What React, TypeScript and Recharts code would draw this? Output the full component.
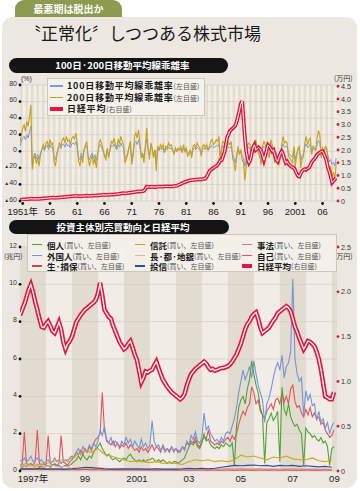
import React from 'react';
import { LineChart, Line, XAxis, YAxis, ReferenceArea, ReferenceLine } from 'recharts';

// ---------------- Panel 1: 100/200-day MA deviation & Nikkei (quarterly, 1951Q1 - 2009Q1) ----------------
const dev1StartYear = 1951;
const dev200 = [
  10, 20, 28, 32, 24, 36, 30, 42, 56, -22, -10, -4, -15, -8, -18, -5,
  2, 8, 3, 10, 12, 5, 14, 8, 10, -12, -18, -6, 4, 10, 6, 14,
  16, 10, 18, 12, 14, 8, 16, 18, 15, 22, 10, -12, -18, -6, -14, 2,
  8, 12, -8, -18, -10, -4, -16, -8, -20, -6, 10, 14, 8, 2, -6, -10,
  4, -8, 2, 12, 10, 16, 8, 4, 14, 10, 18, 12, 8, -14, -10, -4,
  6, 12, -16, -6, 18, 22, 16, 26, 10, -8, -4, -14, 8, 28, 4, -10,
  10, 4, -8, 2, -24, 6, 2, 8, 4, 8, -2, 6, 4, 10, 6, 8,
  2, -4, 4, 0, 4, 2, 6, -2, 8, 0, 4, -6, -4, 2, -8, 6,
  8, 4, 10, 6, 4, -6, 6, 8, 4, 8, 2, 6, 12, 14, 8, 10,
  14, 12, 18, -14, 6, 12, 10, 8, 6, 10, 8, 12, -8, -14, -24, -8,
  6, -4, 2, -10, -14, -35, -18, 8, 10, 6, -8, 2, 6, 14, 4, -2,
  -8, -16, 6, 12, 8, 4, -4, -8, 14, 8, -6, -14, -4, -12, -16, -8,
  8, 18, 10, 12, 10, -6, -8, -12, -14, 6, -18, -6, 4, 6, -20, -10,
  -6, 10, 18, 8, 14, 16, -4, 6, 4, 2, 16, 25, 20, -8, 4, 0,
  6, 4, -10, -25, -18, -30, -25, -35, -15,
];
const dev100 = [
  6, 12, 16, 18, 14, 20, 16, 24, 30, -16, -6, -2, -9, -4, -10, -2,
  2, 5, 1, 6, 7, 2, 8, 4, 5, -8, -10, -2, 3, 6, 3, 8,
  9, 5, 10, 6, 8, 4, 9, 10, 8, 12, 4, -8, -10, -2, -8, 2,
  5, 7, -6, -10, -5, -2, -9, -4, -11, -2, 6, 8, 4, 0, -4, -6,
  2, -5, 1, 7, 6, 9, 4, 2, 8, 5, 10, 6, 4, -9, -5, -2,
  4, 7, -10, -2, 10, 12, 8, 14, 5, -5, -2, -8, 5, 15, 2, -6,
  6, 2, -5, 1, -14, 4, 1, 4, 2, 4, -1, 3, 2, 5, 3, 4,
  1, -2, 2, 0, 2, 1, 3, -1, 4, 0, 2, -3, -2, 1, -4, 3,
  4, 2, 5, 3, 2, -3, 3, 4, 2, 4, 1, 3, 6, 7, 4, 5,
  7, 6, 9, -8, 3, 6, 5, 4, 3, 5, 4, 6, -4, -8, -14, -4,
  3, -2, 1, -5, -8, -18, -10, 4, 5, 3, -5, 1, 3, 7, 2, -1,
  -4, -9, 3, 6, 4, 2, -2, -4, 7, 4, -3, -8, -2, -6, -9, -5,
  4, 9, 5, 6, 5, -3, -4, -6, -7, 3, -10, -3, 2, 3, -11, -5,
  -3, 5, 9, 4, 7, 8, -2, 3, 2, 1, 8, 13, 10, -5, 2, 0,
  3, 2, -5, -13, -10, -16, -13, -18, -8,
];
const nikkeiLong = [
  0.04, 0.05, 0.05, 0.06, 0.06, 0.07, 0.07, 0.08, 0.09, 0.08, 0.08, 0.08, 0.08, 0.08, 0.08, 0.09,
  0.09, 0.10, 0.10, 0.11, 0.11, 0.12, 0.12, 0.13, 0.13, 0.13, 0.12, 0.13, 0.13, 0.14, 0.14, 0.15,
  0.15, 0.16, 0.16, 0.17, 0.17, 0.18, 0.18, 0.19, 0.19, 0.20, 0.20, 0.19, 0.18, 0.19, 0.19, 0.20,
  0.20, 0.21, 0.20, 0.20, 0.20, 0.21, 0.21, 0.21, 0.21, 0.22, 0.22, 0.23, 0.23, 0.24, 0.24, 0.24,
  0.24, 0.24, 0.25, 0.25, 0.25, 0.26, 0.26, 0.27, 0.27, 0.28, 0.29, 0.30, 0.31, 0.30, 0.30, 0.31,
  0.32, 0.33, 0.33, 0.34, 0.35, 0.36, 0.37, 0.38, 0.37, 0.38, 0.38, 0.40, 0.48, 0.56, 0.55, 0.55,
  0.55, 0.56, 0.55, 0.55, 0.55, 0.56, 0.56, 0.56, 0.56, 0.56, 0.57, 0.57, 0.57, 0.57, 0.57, 0.57,
  0.57, 0.58, 0.59, 0.60, 0.62, 0.65, 0.67, 0.70, 0.72, 0.74, 0.76, 0.78, 0.80, 0.81, 0.82, 0.83,
  0.83, 0.84, 0.84, 0.85, 0.85, 0.84, 0.86, 0.87, 0.88, 0.95, 1.05, 1.18, 1.22, 1.26, 1.30, 1.34,
  1.36, 1.42, 1.50, 1.60, 1.60, 1.75, 1.90, 2.20, 2.50, 2.60, 2.75, 2.80, 2.85, 2.90, 2.95, 3.10,
  3.33, 3.55, 3.80, 3.92, 3.20, 2.50, 1.95, 1.65, 1.50, 1.60, 1.85, 2.10, 2.20, 2.00, 2.05, 2.10,
  2.05, 1.95, 1.80, 1.60, 1.80, 2.00, 2.20, 2.15, 2.05, 1.95, 2.00, 1.80, 1.62, 1.55, 1.70, 1.85,
  1.95, 1.85, 1.65, 1.50, 1.55, 1.45, 1.40, 1.35, 1.32, 1.30, 1.20, 1.08, 0.98, 0.96, 1.08, 1.18,
  1.22, 1.25, 1.22, 1.28, 1.30, 1.40, 1.52, 1.60, 1.64, 1.72, 1.82, 1.86, 1.90, 1.94, 1.95, 1.85,
  1.72, 1.55, 1.30, 1.15, 0.95, 0.72, 0.78, 0.85, 0.90,
];
const panel1TickYears = [1951, 1956, 1961, 1966, 1971, 1976, 1981, 1986, 1991, 1996, 2001, 2006];
const panel1TickLabels = ['1951年', '56', '61', '66', '71', '76', '81', '86', '91', '96', '2001', '06'];
const panel1LeftTicks = [80, 60, 40, 20, 0, -20, -40, -60];
const panel1RightTicks = [4.5, 4.0, 3.5, 3.0, 2.5, 2.0, 1.5, 1.0, 0.5, 0];

// ---------------- Panel 2: investor-type buying (monthly, 1997/01 - 2009/02) ----------------
const flowStartYear = 1997;
const foreignBuy = [
  0.6, 0.5, 0.7, 0.5, 0.6, 0.8, 0.5, 0.6, 0.7, 0.5, 0.6, 0.4,
  0.5, 0.6, 0.4, 0.5, 0.7, 0.5, 0.6, 0.4, 0.5, 0.6, 0.5, 0.7,
  0.8, 0.7, 1.0, 1.2, 0.9, 1.3, 1.1, 1.0, 1.4, 1.2, 1.5, 1.3,
  1.6, 2.2, 1.9, 2.4, 1.7, 1.5, 1.8, 1.4, 1.6, 1.5, 1.3, 1.6,
  1.4, 1.8, 1.5, 1.7, 1.3, 1.6, 1.4, 1.2, 1.7, 1.3, 1.5, 1.2,
  1.4, 2.7, 1.6, 1.3, 1.4, 1.1, 1.3, 1.0, 1.2, 1.1, 1.3, 1.0,
  1.2, 1.1, 1.0, 1.3, 1.1, 1.6, 1.4, 1.9, 1.7, 2.1, 1.6, 1.5,
  1.8, 3.1, 2.2, 2.4, 2.0, 1.8, 1.6, 1.7, 1.5, 1.8, 1.6, 2.0,
  2.1, 2.0, 2.4, 2.8, 3.4, 4.2, 4.8, 5.4, 4.9, 5.2, 5.6, 5.0,
  5.9, 5.2, 4.6, 4.2, 3.8, 2.6, 3.6, 3.9, 4.4, 5.0, 5.5, 5.8,
  5.4, 6.2, 5.0, 5.6, 5.8, 6.4, 10.3, 6.0, 5.2, 4.8, 5.0, 3.0,
  4.3, 3.8, 4.1, 3.5, 3.6, 2.7, 3.2, 2.6, 2.8, 2.3, 2.6, 2.0,
  2.4, 2.6,
];
const individualBuy = [
  0.3, 0.2, 0.3, 0.25, 0.3, 0.35, 0.3, 0.25, 0.3, 0.2, 0.25, 0.2,
  0.25, 0.3, 0.2, 0.3, 0.35, 0.25, 0.3, 0.2, 0.25, 0.3, 0.25, 0.3,
  0.4, 0.5, 0.6, 0.8, 0.6, 0.9, 0.7, 0.6, 0.8, 0.7, 1.0, 1.2,
  1.3, 1.5, 1.2, 1.0, 0.8, 0.9, 0.7, 0.6, 0.7, 0.6, 0.5, 0.6,
  0.7, 0.6, 0.8, 0.9, 0.7, 0.6, 0.5, 0.6, 0.5, 0.6, 0.5, 0.6,
  0.6, 0.7, 0.6, 0.5, 0.6, 0.5, 0.6, 0.5, 0.4, 0.5, 0.4, 0.5,
  0.5, 0.4, 0.5, 0.6, 0.7, 1.0, 1.3, 1.5, 1.4, 1.6, 1.3, 1.2,
  1.5, 2.0, 1.6, 1.7, 1.4, 1.3, 1.2, 1.3, 1.2, 1.4, 1.3, 1.5,
  1.4, 1.3, 1.5, 0.3, 2.4, 3.4, 3.8, 4.0, 3.6, 4.4, 4.9, 5.9,
  5.2, 4.6, 4.2, 3.4, 3.0, 0.4, 2.6, 2.8, 3.1, 2.7, 2.9, 3.2,
  0.5, 4.5, 3.3, 3.0, 3.6, 2.9, 2.6, 2.4, 2.5, 2.2, 2.0, 0.3,
  2.3, 2.1, 2.0, 1.8, 1.9, 1.7, 1.6, 1.8, 1.5, 1.6, 1.3, 0.3,
  1.2, 1.3,
];
const proprietaryBuy = [
  0.3, 0.4, 2.1, 0.4, 0.3, 0.4, 0.3, 0.5, 2.2, 0.4, 0.3, 0.4,
  0.3, 1.9, 0.4, 0.3, 0.4, 0.3, 0.4, 1.9, 0.5, 0.4, 0.3, 0.5,
  0.6, 0.8, 1.0, 0.9, 1.1, 0.9, 1.2, 1.0, 1.3, 1.1, 1.5, 1.7,
  1.8, 2.0, 4.2, 2.2, 1.6, 1.5, 1.4, 1.6, 1.3, 1.5, 1.2, 1.4,
  1.3, 1.5, 1.2, 1.4, 1.3, 1.1, 1.2, 1.0, 1.3, 1.1, 1.2, 1.0,
  1.2, 1.4, 1.1, 1.3, 1.2, 1.0, 1.4, 1.1, 1.2, 1.0, 1.3, 1.1,
  1.2, 1.0, 1.1, 1.3, 1.2, 1.5, 1.4, 1.6, 1.5, 1.8, 1.4, 1.3,
  1.6, 1.8, 1.7, 2.2, 1.6, 1.5, 1.4, 1.5, 1.4, 1.6, 1.5, 1.7,
  1.8, 1.6, 1.9, 1.7, 2.0, 2.5, 2.9, 3.2, 3.0, 3.4, 3.6, 4.5,
  4.2, 3.6, 3.8, 3.2, 3.0, 2.8, 3.2, 3.4, 3.6, 3.3, 3.8, 3.9,
  3.6, 4.2, 3.7, 4.0, 3.6, 4.4, 4.6, 3.7, 3.4, 3.5, 3.1, 2.9,
  3.3, 3.0, 3.4, 2.9, 3.1, 2.8, 2.9, 2.5, 2.6, 2.2, 2.0, 1.8,
  1.9, 2.2,
];
const nikkeiRecent = [
  1.74, 1.80, 1.86, 1.94, 2.02, 2.08, 2.00, 1.89, 1.80, 1.70, 1.61, 1.60,
  1.64, 1.67, 1.62, 1.56, 1.54, 1.60, 1.66, 1.58, 1.44, 1.36, 1.42, 1.45,
  1.50, 1.58, 1.66, 1.70, 1.74, 1.77, 1.80, 1.82, 1.84, 1.86, 1.88, 1.91,
  1.98, 2.10, 1.96, 1.80, 1.76, 1.72, 1.70, 1.62, 1.56, 1.50, 1.44, 1.40,
  1.36, 1.38, 1.42, 1.45, 1.38, 1.30, 1.24, 1.12, 0.99, 1.04, 1.11, 1.10,
  1.12, 1.13, 1.18, 1.22, 1.15, 1.08, 1.02, 0.98, 0.94, 0.91, 0.88, 0.86,
  0.84, 0.82, 0.80, 0.82, 0.86, 0.95, 1.02, 1.08, 1.11, 1.14, 1.16, 1.18,
  1.20, 1.22, 1.20, 1.16, 1.13, 1.14, 1.12, 1.13, 1.14, 1.15, 1.15, 1.16,
  1.17, 1.19, 1.22, 1.26, 1.30, 1.36, 1.42, 1.50, 1.58, 1.64, 1.67, 1.72,
  1.75, 1.77, 1.70, 1.60, 1.54, 1.56, 1.58, 1.60, 1.64, 1.68, 1.71, 1.76,
  1.78, 1.80, 1.82, 1.84, 1.82, 1.78, 1.70, 1.61, 1.55, 1.48, 1.42, 1.36,
  1.40, 1.45, 1.44, 1.42, 1.39, 1.33, 1.25, 1.13, 0.98, 0.83, 0.82, 0.80,
  0.80, 0.88,
];
// quarterly (1997Q1 - 2009Q1)
const trustBuy = [
  0.30, 0.40, 0.30, 0.35, 0.40, 0.50, 0.60, 0.55, 0.70, 0.90, 1.10, 1.00,
  1.20, 0.90, 0.80, 0.70, 0.60, 0.50, 0.55, 0.50, 0.45, 0.50, 0.40, 0.45,
  0.40, 0.35, 0.50, 0.60, 0.55, 0.60, 0.50, 0.55, 0.50, 0.60, 0.85, 0.75,
  0.80, 0.70, 0.60, 0.75, 0.70, 0.80, 0.65, 0.60, 0.60, 0.70, 0.55, 0.50,
  0.60,
];
const banksBuy = [
  0.25, 0.30, 0.25, 0.30, 0.25, 0.30, 0.20, 0.25, 0.15, 0.20, 0.15, 0.20,
  0.20, 0.15, 0.12, 0.15, 0.12, 0.15, 0.12, 0.10, 0.10, 0.12, 0.10, 0.10,
  0.10, 0.10, 0.12, 0.10, 0.12, 0.10, 0.10, 0.12, 0.10, 0.12, 0.10, 0.10,
  0.12, 0.10, 0.12, 0.10, 0.10, 0.12, 0.10, 0.12, 0.10, 0.12, 0.10, 0.10,
  0.10,
];
const investTrustBuy = [
  0.10, 0.12, 0.10, 0.15, 0.10, 0.12, 0.10, 0.10, 0.12, 0.15, 0.20, 0.18,
  0.15, 0.12, 0.10, 0.10, 0.12, 0.10, 0.12, 0.10, 0.10, 0.12, 0.10, 0.10,
  0.10, 0.12, 0.15, 0.12, 0.15, 0.12, 0.15, 0.20, 0.25, 0.30, 0.28, 0.30,
  0.32, 0.28, 0.30, 0.25, 0.30, 0.28, 0.30, 0.25, 0.28, 0.25, 0.22, 0.25,
  0.20,
];
const insurersBuy = [
  0.10, 0.08, 0.10, 0.07, 0.08, 0.06, 0.07, 0.06, 0.07, 0.06, 0.08, 0.06,
  0.06, 0.05, 0.06, 0.05, 0.05, 0.06, 0.05, 0.05, 0.05, 0.04, 0.05, 0.05,
  0.04, 0.05, 0.04, 0.05, 0.05, 0.04, 0.05, 0.04, 0.05, 0.04, 0.05, 0.05,
  0.04, 0.05, 0.04, 0.05, 0.04, 0.05, 0.04, 0.04, 0.05, 0.04, 0.04, 0.05,
  0.04,
];
const corporateBuy = [
  0.15, 0.12, 0.15, 0.12, 0.12, 0.10, 0.12, 0.10, 0.12, 0.10, 0.12, 0.10,
  0.12, 0.10, 0.10, 0.08, 0.10, 0.08, 0.10, 0.08, 0.08, 0.10, 0.08, 0.08,
  0.08, 0.08, 0.10, 0.08, 0.10, 0.08, 0.10, 0.10, 0.12, 0.10, 0.12, 0.10,
  0.10, 0.12, 0.10, 0.10, 0.10, 0.10, 0.12, 0.10, 0.10, 0.10, 0.08, 0.10,
  0.08,
];
const panel2TickPositions = [1997.5, 1999.5, 2001.5, 2003.5, 2005.5, 2007.5, 2009.1];
const panel2TickLabels = ['1997年', '99', '2001', '03', '05', '07', '09'];
const panel2LeftTicks = [0, 2, 4, 6, 8, 10, 12];
const panel2RightTicks = [0, 0.5, 1.0, 1.5, 2.0, 2.5];

// ---------------- tables ----------------
const table1 = dev200.map((v, i) => ({
  t: dev1StartYear + i / 4,
  d100: dev100[i],
  d200: v,
  nk: nikkeiLong[i],
}));
const table2 = foreignBuy.map((v, i) => {
  const q = i % 3 === 0 ? i / 3 : -1;
  const pick = (arr: number[]) => (q >= 0 && q < arr.length ? arr[q] : null);
  return {
    t: flowStartYear + i / 12,
    foreign: v,
    individual: individualBuy[i],
    prop: proprietaryBuy[i],
    nk: nikkeiRecent[i],
    trust: pick(trustBuy),
    banks: pick(banksBuy),
    itrust: pick(investTrustBuy),
    insur: pick(insurersBuy),
    corp: pick(corporateBuy),
  };
});

const P1_MIN = 1951;
const P1_MAX = 2009.15;
const P2_MIN = 1997;
const P2_MAX = 2009.2;
const stripes1 = Array.from({ length: 58 }, (_, k) => P1_MIN + k);
const stripes2 = [1997, 1999, 2001, 2003, 2005, 2007, 2009];

const NUM_FONT = '"Liberation Sans", "Noto Sans CJK JP", sans-serif';
const JP_FONT = '"Noto Sans CJK JP", "Noto Sans", sans-serif';
const NIKKEI_RED = '#e3173e';

const fmtP1Left = (v: number) =>
  v < 0 ? (
    <>
      <tspan fontSize={5}>▲</tspan>
      {Math.abs(v)}
    </>
  ) : (
    String(v)
  );

function LeftTickP1(props: any) {
  const { x, y, payload } = props;
  return (
    <g>
      <circle cx={x} cy={y} r={1.4} fill="#111" />
      <text x={x - 3} y={y + 0.5} textAnchor="end" fontSize={7} fill="#333" fontFamily={NUM_FONT}>
        {fmtP1Left(payload.value)}
      </text>
    </g>
  );
}
function RightTick(props: any) {
  const { x, y, payload } = props;
  const v = payload.value as number;
  return (
    <g>
      <circle cx={x + 1} cy={y} r={1.4} fill={NIKKEI_RED} />
      <text x={x + 4} y={y + 2.5} textAnchor="start" fontSize={7.2} fill="#333" fontFamily={NUM_FONT}>
        {v === 0 ? '0' : v.toFixed(1)}
      </text>
    </g>
  );
}
function LeftTickP2(props: any) {
  const { x, y, payload } = props;
  return (
    <g>
      <circle cx={x} cy={y} r={1.4} fill="#111" />
      <text x={x - 3} y={y + 0.5} textAnchor="end" fontSize={7} fill="#333" fontFamily={NUM_FONT}>
        {String(payload.value)}
      </text>
    </g>
  );
}
function XTickP1(props: any) {
  const { x, y, payload } = props;
  const idx = panel1TickYears.findIndex((yr) => Math.abs(yr + 0.5 - payload.value) < 0.01);
  return (
    <g>
      <circle cx={x} cy={y + 2.5} r={1.4} fill="#111" />
      <text x={x} y={y + 14} textAnchor="middle" fontSize={9.5} fill="#222" fontFamily={NUM_FONT}>
        {idx >= 0 ? panel1TickLabels[idx] : ''}
      </text>
    </g>
  );
}
function XTickP2(props: any) {
  const { x, y, payload } = props;
  const idx = panel2TickPositions.findIndex((p) => Math.abs(p - payload.value) < 0.01);
  return (
    <text x={x} y={y + 11} textAnchor="middle" fontSize={9.5} fill="#222" fontFamily={NUM_FONT}>
      {idx >= 0 ? panel2TickLabels[idx] : ''}
    </text>
  );
}

function LegendItem(props: {
  x: number;
  y: number;
  color: string;
  thick?: boolean;
  label: string;
  note: string;
  size: number;
  noteSize: number;
  lineW: number;
  gap: number;
  spacing?: number;
}) {
  const { x, y, color, thick, label, note, size, noteSize, lineW, gap, spacing = 0 } = props;
  const h = Math.ceil(size) + 1;
  return (
    <div
      style={{
        position: 'absolute', left: x, top: y - h / 2, height: h, lineHeight: h + 'px',
        display: 'flex', alignItems: 'center', whiteSpace: 'nowrap', overflow: 'visible',
      }}
    >
      <div style={{ width: lineW, height: thick ? 4 : 1.6, background: color, marginRight: gap, flex: 'none' }} />
      <span style={{ fontFamily: JP_FONT, fontWeight: 700, fontSize: size, color: '#1a1a1a', lineHeight: h + 'px', letterSpacing: spacing }}>{label}</span>
      <span style={{ fontFamily: JP_FONT, fontSize: noteSize, color: '#555', lineHeight: h + 'px' }}>{note}</span>
    </div>
  );
}

export default function App() {
  return (
    <div style={{ position: 'absolute', left: 0, top: 0, width: 360, height: 491, background: '#ffffff', overflow: 'hidden' }}>
      {/* green tab */}
      <div
        style={{
          position: 'absolute', left: 15, top: 0, width: 107, height: 20, background: '#8c9b50',
          borderTopLeftRadius: 9, borderTopRightRadius: 9, color: '#fff', fontFamily: JP_FONT, fontWeight: 700,
          fontSize: 10, lineHeight: '17px', textAlign: 'center',
        }}
      >
        最悪期は脱出か
      </div>
      {/* panel */}
      <div style={{ position: 'absolute', left: 2, top: 17, width: 355, height: 471, background: '#ece8e1', borderRadius: 11 }} />
      {/* title */}
      <div style={{ position: 'absolute', left: 24, top: 21, fontFamily: JP_FONT, fontSize: 17, color: '#1a1a1a', whiteSpace: 'nowrap', lineHeight: '24px' }}>
        〝正常化〞しつつある株式市場
      </div>

      {/* panel 1 header */}
      <div
        style={{
          position: 'absolute', left: 9, top: 58, width: 219, height: 15, background: '#141414', borderRadius: 8,
          color: '#fff', fontFamily: JP_FONT, fontWeight: 700, fontSize: 9.5, lineHeight: '15px', textAlign: 'center', paddingLeft: 8, boxSizing: 'border-box',
        }}
      >
        100日·200日移動平均線乖離率
      </div>

      <div style={{ position: 'absolute', left: 0, top: 0 }}>
        <LineChart width={360} height={230} data={table1} margin={{ top: 85, right: 0, bottom: 0, left: 0 }}>
          <XAxis
            dataKey="t" type="number" domain={[P1_MIN, P1_MAX]} allowDataOverflow
            ticks={panel1TickYears.map((y) => y + 0.5)} interval={0} height={29}
            tickLine={false} axisLine={false} tickSize={0} tickMargin={0} tick={(p: any) => <XTickP1 {...p} />}
          />
          <YAxis
            yAxisId="left" orientation="left" type="number" domain={[-60, 80]} allowDataOverflow
            ticks={panel1LeftTicks} interval={0} width={20} tickLine={false} axisLine={false} tickSize={0} tickMargin={0}
            tick={(p: any) => <LeftTickP1 {...p} />}
          />
          <YAxis
            yAxisId="right" orientation="right" type="number" domain={[0, 4.55]} allowDataOverflow
            ticks={panel1RightTicks} interval={0} width={23} tickLine={false} axisLine={false} tickSize={0} tickMargin={0}
            tick={(p: any) => <RightTick {...p} />}
          />
          <ReferenceArea yAxisId="left" x1={P1_MIN} x2={P1_MAX} fill="#f3efe8" fillOpacity={1} stroke="none" />
          {stripes1.map((y) => (
            <ReferenceArea key={'s' + y} yAxisId="left" x1={y} x2={y + 0.5} fill="#e4ddd1" fillOpacity={1} stroke="none" />
          ))}
          {panel1LeftTicks.map((v) => (
            <ReferenceLine key={'g' + v} yAxisId="left" y={v} stroke="#d2cbbf" strokeWidth={0.7} />
          ))}
          <Line yAxisId="left" dataKey="d100" stroke="#7b9bd8" strokeWidth={1} dot={false} isAnimationActive={false} />
          <Line yAxisId="left" dataKey="d200" stroke="#c6a01c" strokeWidth={1.1} dot={false} isAnimationActive={false} />
          <Line yAxisId="right" dataKey="nk" stroke={NIKKEI_RED} strokeWidth={3.8} dot={false} isAnimationActive={false} />
          <Line yAxisId="right" dataKey="nk" stroke="#ffffff" strokeWidth={1} dot={false} isAnimationActive={false} />
        </LineChart>
      </div>
      <div style={{ position: 'absolute', left: 21, top: 75, fontFamily: NUM_FONT, fontSize: 7, color: '#333' }}>(%)</div>
      <div style={{ position: 'absolute', left: 334, top: 73, fontFamily: JP_FONT, fontSize: 7, color: '#333' }}>(万円)</div>

      {/* panel 1 legend */}
      <div style={{ position: 'absolute', left: 47, top: 78, width: 158, height: 38, background: 'rgba(245,242,236,0.95)', border: '1px solid #cdc6bb', boxSizing: 'border-box' }}>
        <LegendItem x={2} y={7} color="#7b9bd8" label="100日移動平均線乖離率" note="(左目盛)" size={9} noteSize={7} lineW={13} gap={4} spacing={0.8} />
        <LegendItem x={2} y={18.5} color="#c6a01c" label="200日移動平均線乖離率" note="(左目盛)" size={9} noteSize={7} lineW={13} gap={4} spacing={0.8} />
        <LegendItem x={2} y={30} color={NIKKEI_RED} thick label="日経平均" note="(右目盛)" size={9} noteSize={7} lineW={13} gap={4} spacing={0.8} />
      </div>

      {/* panel 2 header */}
      <div
        style={{
          position: 'absolute', left: 9, top: 220, width: 220, height: 14, background: '#141414', borderRadius: 8,
          color: '#fff', fontFamily: JP_FONT, fontWeight: 700, fontSize: 9.5, lineHeight: '14px', textAlign: 'center', paddingLeft: 8, boxSizing: 'border-box',
        }}
      >
        投資主体別売買動向と日経平均
      </div>

      <div style={{ position: 'absolute', left: 0, top: 215 }}>
        <LineChart width={360} height={276} data={table2} margin={{ top: 32, right: 0, bottom: 0, left: 0 }}>
          <XAxis
            dataKey="t" type="number" domain={[P2_MIN, P2_MAX]} allowDataOverflow
            ticks={panel2TickPositions} interval={0} height={20}
            tickLine={false} axisLine={false} tickSize={0} tickMargin={0} tick={(p: any) => <XTickP2 {...p} />}
          />
          <YAxis
            yAxisId="left" orientation="left" type="number" domain={[0, 12]} allowDataOverflow
            ticks={panel2LeftTicks} interval={0} width={20} tickLine={false} axisLine={false} tickSize={0} tickMargin={0}
            tick={(p: any) => <LeftTickP2 {...p} />}
          />
          <YAxis
            yAxisId="right" orientation="right" type="number" domain={[0, 2.5]} allowDataOverflow
            ticks={panel2RightTicks} interval={0} width={23} tickLine={false} axisLine={false} tickSize={0} tickMargin={0}
            tick={(p: any) => <RightTick {...p} />}
          />
          <ReferenceArea yAxisId="left" x1={P2_MIN} x2={P2_MAX} fill="#f1ede6" fillOpacity={1} stroke="none" />
          {stripes2.map((y) => (
            <ReferenceArea key={'s' + y} yAxisId="left" x1={y} x2={Math.min(y + 1, P2_MAX)} fill="#e2dbcf" fillOpacity={1} stroke="none" />
          ))}
          {panel2LeftTicks.map((v) => (
            <ReferenceLine key={'g' + v} yAxisId="left" y={v} stroke="#d2cbbf" strokeWidth={0.7} />
          ))}
          <Line yAxisId="left" dataKey="prop" stroke="#e0545e" strokeWidth={1.1} dot={false} isAnimationActive={false} />
          <Line yAxisId="left" dataKey="foreign" stroke="#7594d8" strokeWidth={1.1} dot={false} isAnimationActive={false} />
          <Line yAxisId="left" dataKey="individual" stroke="#52a03a" strokeWidth={1.1} dot={false} isAnimationActive={false} />
          <Line yAxisId="left" dataKey="trust" stroke="#d0a51c" strokeWidth={1.1} dot={false} connectNulls isAnimationActive={false} />
          <Line yAxisId="left" dataKey="corp" stroke="#b88a74" strokeWidth={1} dot={false} connectNulls isAnimationActive={false} />
          <Line yAxisId="left" dataKey="banks" stroke="#f2a8ba" strokeWidth={1} dot={false} connectNulls isAnimationActive={false} />
          <Line yAxisId="left" dataKey="insur" stroke="#d4463e" strokeWidth={1} dot={false} connectNulls isAnimationActive={false} />
          <Line yAxisId="left" dataKey="itrust" stroke="#2d4f9e" strokeWidth={1.1} dot={false} connectNulls isAnimationActive={false} />
          <Line yAxisId="right" dataKey="nk" stroke={NIKKEI_RED} strokeWidth={4.6} dot={false} isAnimationActive={false} />
          <Line yAxisId="right" dataKey="nk" stroke="#ffffff" strokeWidth={1.3} dot={false} isAnimationActive={false} />
        </LineChart>
      </div>
      <div style={{ position: 'absolute', left: 4, top: 251, fontFamily: JP_FONT, fontSize: 7, color: '#333' }}>(兆円)</div>
      <div style={{ position: 'absolute', left: 334, top: 251, fontFamily: JP_FONT, fontSize: 7, color: '#333' }}>(万円)</div>

      {/* panel 2 legend */}
      <div style={{ position: 'absolute', left: 27, top: 234, width: 310, height: 38, background: 'rgba(243,240,234,0.95)', border: '1px solid #cdc6bb', boxSizing: 'border-box' }}>
        <LegendItem x={4} y={9.5} color="#52a03a" label="個人" note="(買い、左目盛)" size={8.5} noteSize={7} lineW={10} gap={5} />
        <LegendItem x={4} y={20.5} color="#7594d8" label="外国人" note="(買い、左目盛)" size={8.5} noteSize={7} lineW={10} gap={5} />
        <LegendItem x={4} y={31} color="#d4463e" label="生·損保" note="(買い、左目盛)" size={8.5} noteSize={7} lineW={10} gap={5} />
        <LegendItem x={107} y={9.5} color="#d0a51c" label="信託" note="(買い、左目盛)" size={8.5} noteSize={7} lineW={10} gap={5} />
        <LegendItem x={107} y={20.5} color="#f2a8ba" label="長·都·地銀" note="(買い、左目盛)" size={8.5} noteSize={7} lineW={10} gap={5} />
        <LegendItem x={107} y={31} color="#2d4f9e" label="投信" note="(買い、左目盛)" size={8.5} noteSize={7} lineW={10} gap={5} />
        <LegendItem x={214} y={9.5} color="#b88a74" label="事法" note="(買い、左目盛)" size={8.5} noteSize={7} lineW={10} gap={5} />
        <LegendItem x={214} y={20.5} color="#e0545e" label="自己" note="(買い、左目盛)" size={8.5} noteSize={7} lineW={10} gap={5} />
        <LegendItem x={214} y={31} color={NIKKEI_RED} thick label="日経平均" note="(右目盛)" size={8.5} noteSize={7} lineW={10} gap={5} />
      </div>
    </div>
  );
}
